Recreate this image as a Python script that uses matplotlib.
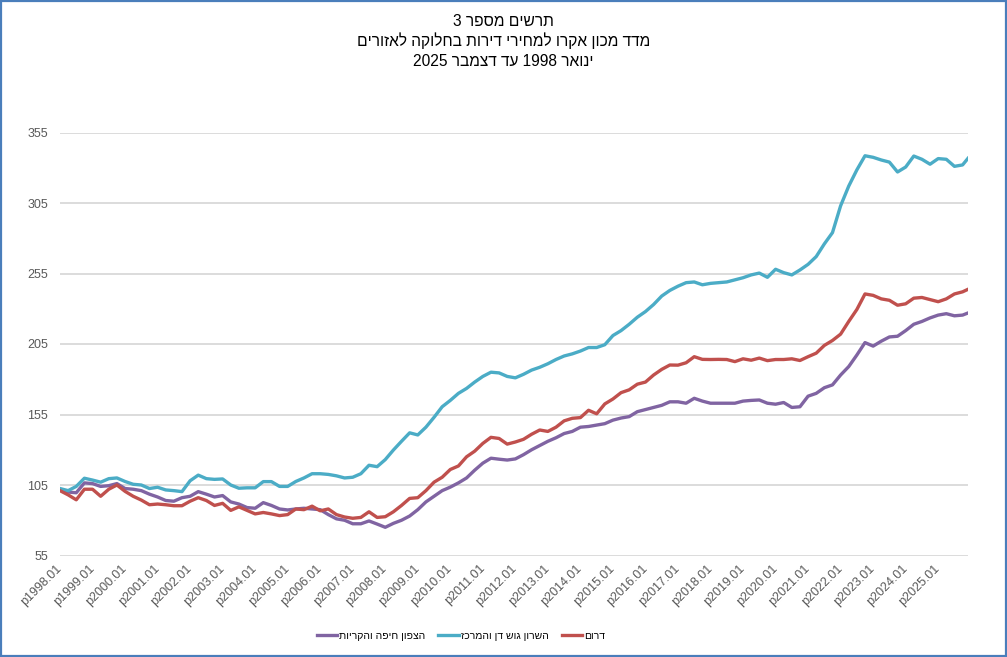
import matplotlib
matplotlib.use("Agg")
import matplotlib.pyplot as plt
from matplotlib.patches import Rectangle

plt.rcParams['font.family'] = ['Liberation Sans', 'DejaVu Sans']

# quarterly readings (Jan, Apr, Jul, Oct) 1998-2025, plus 2025.12
years = list(range(1998, 2026))
quarter_months = [1, 4, 7, 10]

north = [
    101.5, 100, 99.5, 106.5,
    106, 104, 104.5, 106,
    102.5, 102, 101, 98.5,
    96.5, 94, 93.5, 96,
    97, 100.3, 98.5, 96.5,
    97.5, 93, 91.5, 89,
    88.5, 92.5, 90.5, 88,
    87.3, 88, 88.5, 88,
    87.5, 84, 81, 80,
    77.5, 77.5, 79.5, 77.3,
    75, 77.8, 80, 83,
    87.5, 93, 97, 101,
    103.5, 106.5, 110, 115.5,
    120.5, 124, 123.3, 122.7,
    123.5, 126.5, 130, 133,
    136, 138.5, 141.5, 143,
    146, 146.5, 147.5, 148.5,
    151, 152.5, 153.5, 157,
    158.5, 160, 161.5, 164,
    164, 163, 166.5, 164.5,
    163, 163, 163, 163,
    164.5, 165, 165.3, 163,
    162.3, 163.5, 160, 160.5,
    168, 170, 174, 176,
    183, 189, 197.2, 206,
    203.5, 207, 210, 210.5,
    214.5, 219, 221, 223.5,
    225.5, 226.5, 225, 225.5,
    227,
]

center = [
    102.5, 101, 104, 109.8,
    108.5, 107, 109.5, 110,
    107.5, 105.5, 105, 102.5,
    103.4, 101.5, 101, 100.3,
    108, 112, 109.5, 109,
    109.3, 105, 102.7, 103,
    103, 107.4, 107.4, 104,
    104, 107.5, 110, 113,
    113, 112.5, 111.5, 110,
    110.5, 113, 119, 118,
    123, 129.8, 136, 142,
    140.5, 146, 153, 160.5,
    165, 170, 173.5, 178,
    182, 185, 184.5, 182,
    181, 183.5, 186.5, 188.5,
    191, 194, 196.5, 198,
    200, 202.5, 202.5, 204.5,
    211, 214.5, 219, 224,
    228, 233, 239, 243,
    246, 248.5, 249, 247,
    248, 248.5, 249, 250.5,
    252, 254, 255.3, 252.3,
    258, 255.6, 254, 257.5,
    261.5, 267, 276, 284,
    303, 317, 328.5, 338.5,
    337.4, 335.5, 334, 327,
    330.5, 338.3, 336, 332.5,
    336.5, 336, 331, 332,
    336.7,
]

south = [
    101, 98, 94.5, 102,
    102, 97, 102, 105,
    100.5, 97, 94.3, 91,
    91.5, 91, 90.3, 90.3,
    93.5, 96, 94, 90.5,
    92, 87, 89.5, 87,
    84.5, 85.5, 84.5, 83.3,
    84, 88, 87.5, 90,
    86.7, 88, 84, 82.3,
    81.4, 82, 86, 82,
    82.5, 86, 90.5, 95.5,
    96, 101, 107, 110.5,
    116, 118.5, 125, 129,
    134.5, 138.8, 138, 134,
    135.5, 137.4, 141, 144,
    143, 146, 150.5, 152.3,
    152.8, 158, 155.5, 162.5,
    166, 170.5, 172.5, 176.5,
    178, 183, 187, 190.1,
    190, 191.7, 196, 194.1,
    194, 194.1, 194, 192.5,
    194.5, 193.5, 195, 193.2,
    194, 194, 194.5, 193.3,
    196, 198.5, 204, 207.5,
    212, 221, 229.5, 240.5,
    239.5, 237, 236, 232.5,
    233.5, 237.5, 238, 236.5,
    235, 237, 240.5, 242,
    243.8,
]

series_names = ['הצפון חיפה והקריות', 'השרון גוש דן והמרכז', 'דרום']
series_colors = ['#8064A2', '#4BACC6', '#C0504D']
title_lines = ['תרשים מספר 3', 'מדד מכון אקרו למחירי דירות בחלוקה לאזורים',
               'ינואר 1998 עד דצמבר 2025']
yticks = [55, 105, 155, 205, 255, 305, 355]


def rtl(s):
    # matplotlib has no bidi support, so lay the words out right to left by hand
    out = []
    for w in reversed(s.split(' ')):
        if any('\u0590' <= c <= '\u05ff' for c in w):
            w = w[::-1]
        out.append(w)
    return ' '.join(out)


# month index from 1998.01
periods = [(y - 1998) * 12 + m - 1 for y in years for m in quarter_months] + [335]

fig = plt.figure(figsize=(10.07, 6.57), dpi=100)
ax = fig.add_axes([60 / 1007, 1 - 555.5 / 657, 908 / 1007, 423 / 657])

lines = []
for vals, name, col in zip([north, center, south], series_names, series_colors):
    ln, = ax.plot(periods, vals, color=col, lw=2.4, solid_joinstyle='round', label=rtl(name))
    lines.append(ln)

ax.set_xlim(0, 335)
ax.set_ylim(55, 355)
ax.set_yticks(yticks)
ax.set_yticklabels([str(v) for v in yticks], fontsize=9, color='#595959')
ax.set_xticks([(y - 1998) * 12 for y in years])
ax.set_xticklabels(['p%d.01' % y for y in years], rotation=45, ha='right',
                   va='center', rotation_mode='anchor', fontsize=9, color='#595959')
ax.tick_params(axis='both', length=0)
ax.tick_params(axis='x', pad=8)
ax.tick_params(axis='y', pad=8.5)
ax.yaxis.grid(True, color='#D9D9D9', lw=1.3)
ax.set_axisbelow(True)
for s in ax.spines.values():
    s.set_visible(False)

for i, t in enumerate(title_lines):
    fig.text(0.5, 1 - (21 + 20 * i) / 657, rtl(t), ha='center', va='center',
             fontsize=11.2, color='black')

fig.legend(lines, [l.get_label() for l in lines], loc='center',
           bbox_to_anchor=(461 / 1007, 1 - 636 / 657), ncol=3, frameon=False,
           fontsize=7.5, handlelength=2.0, handletextpad=0.2, columnspacing=1.2)

fig.patches.append(Rectangle((0.001, 0.002), 0.998, 0.996, transform=fig.transFigure,
                             fill=False, edgecolor='#4A7EBB', lw=1.6))

fig.savefig('out.png', dpi=100)
